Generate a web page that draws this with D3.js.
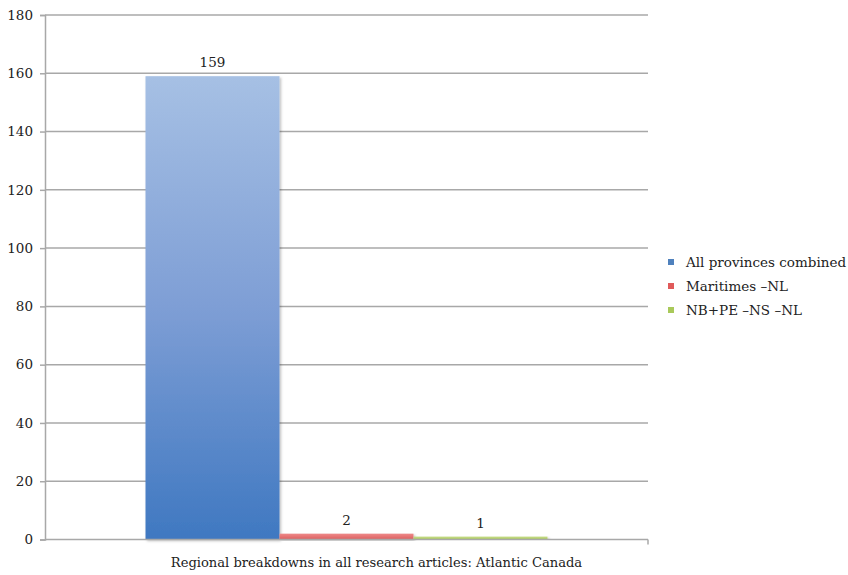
<!DOCTYPE html>
<html><head><meta charset="utf-8">
<script src="https://cdn.jsdelivr.net/npm/d3@7"></script>
<style>body{margin:0;background:#fff}svg{display:block}text{font-family:"DejaVu Serif",serif;fill:#222}</style>
</head><body><svg id="c" width="848" height="575"></svg>
<script>
const categories = ["Regional breakdowns in all research articles: Atlantic Canada"];
const seriesNames = ["All provinces combined", "Maritimes \u2013NL", "NB+PE \u2013NS \u2013NL"];
const seriesValues = [159, 2, 1];
const yTicks = [0, 20, 40, 60, 80, 100, 120, 140, 160, 180];

const svg = d3.select("#c");
const m = {l: 45, r: 648, t: 15, b: 539.5};
const y = d3.scaleLinear().domain([0, 180]).range([m.b, m.t]);
const x0 = d3.scaleBand().domain(categories).range([m.l, m.r]).paddingInner(0).paddingOuter(0.25);
const x1 = d3.scaleBand().domain(seriesNames).range([0, x0.bandwidth()]).padding(0);
const colors = ["url(#gBlue)", "url(#gRed)", "url(#gGreen)"];
const legendColors = ["#4f81bd", "#e05a5a", "#a9c95a"];

const defs = svg.append("defs");
const gb = defs.append("linearGradient").attr("id","gBlue").attr("x1",0).attr("y1",0).attr("x2",0).attr("y2",1);
gb.append("stop").attr("offset","0%").attr("stop-color","#a6c0e4");
gb.append("stop").attr("offset","50%").attr("stop-color","#7e9ed5");
gb.append("stop").attr("offset","100%").attr("stop-color","#3f78c1");
const gr = defs.append("linearGradient").attr("id","gRed").attr("x1",0).attr("y1",0).attr("x2",0).attr("y2",1);
gr.append("stop").attr("offset","0%").attr("stop-color","#ee8a8a");
gr.append("stop").attr("offset","100%").attr("stop-color","#dc5e5e");
const gg = defs.append("linearGradient").attr("id","gGreen").attr("x1",0).attr("y1",0).attr("x2",0).attr("y2",1);
gg.append("stop").attr("offset","0%").attr("stop-color","#c8dd8a");
gg.append("stop").attr("offset","100%").attr("stop-color","#a9c95a");
const f = defs.append("filter").attr("id","sh").attr("x","-5%").attr("y","-5%").attr("width","115%").attr("height","115%");
f.append("feDropShadow").attr("dx",1.5).attr("dy",1.5).attr("stdDeviation",1.2).attr("flood-color","#000").attr("flood-opacity",0.25);

// gridlines
svg.append("g").selectAll("line").data(yTicks.filter(d=>d>0)).join("line")
  .attr("x1", m.l).attr("x2", m.r).attr("y1", d=>y(d)).attr("y2", d=>y(d))
  .attr("stroke", "#a8a8a8").attr("stroke-width", 1.5);

// y axis
const ya = svg.append("g").attr("transform", `translate(${m.l},0)`)
  .call(d3.axisLeft(y).tickValues(yTicks).tickSize(5).tickPadding(7));
ya.select(".domain").attr("stroke","#a8a8a8").attr("stroke-width",1.5);
ya.selectAll(".tick line").attr("stroke","#a8a8a8").attr("stroke-width",1.5);
ya.selectAll(".tick text").style("font-family","DejaVu Serif, serif").style("font-size","13.5px").attr("fill","#222");

// bars
const g = svg.append("g").attr("transform", `translate(${x0(categories[0])},0)`);
g.selectAll("rect").data(seriesValues).join("rect")
  .attr("x", (d,i)=>x1(seriesNames[i])).attr("width", x1.bandwidth())
  .attr("y", d=>y(d)).attr("height", d=>y(0)-y(d))
  .attr("fill", (d,i)=>colors[i]).attr("filter","url(#sh)");
g.selectAll("text.v").data(seriesValues).join("text").attr("class","v")
  .attr("x", (d,i)=>x1(seriesNames[i]) + x1.bandwidth()/2).attr("y", d=>y(d)-9)
  .attr("text-anchor","middle").style("font-size","13.5px").text(d=>d);

// x axis baseline
svg.append("line").attr("x1", m.l).attr("x2", m.r).attr("y1", y(0)).attr("y2", y(0))
  .attr("stroke","#a8a8a8").attr("stroke-width",1.5);
svg.append("line").attr("x1", m.r).attr("x2", m.r).attr("y1", y(0)).attr("y2", y(0)+5)
  .attr("stroke","#a8a8a8").attr("stroke-width",1.5);
svg.append("text").attr("x", x0(categories[0]) + x0.bandwidth()/2 + 30).attr("y", 567)
  .attr("text-anchor","middle").style("font-size","13.1px").text(categories[0]);

// legend
const lg = svg.append("g").attr("transform","translate(668,262)");
const li = lg.selectAll("g").data(seriesNames).join("g").attr("transform",(d,i)=>`translate(0,${i*24})`);
li.append("rect").attr("x",0).attr("y",-3).attr("width",6).attr("height",6).attr("fill",(d,i)=>legendColors[i]);
li.append("text").attr("x",18).attr("y",5).style("font-size","13.5px").text(d=>d);
</script></body></html>
